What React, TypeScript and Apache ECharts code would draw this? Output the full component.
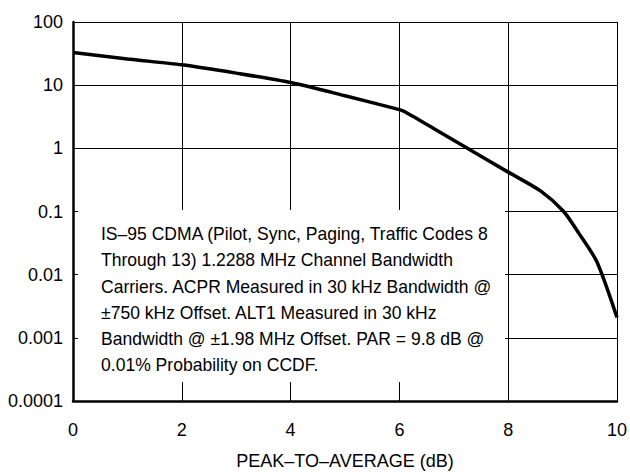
import React, { useEffect, useRef } from "react";
import * as echarts from "echarts";

const xTicks = [0, 2, 4, 6, 8, 10];
const yTickLabels = ["0.0001", "0.001", "0.01", "0.1", "1", "10", "100"];
const curveX = [0, 1, 2, 3, 4, 5, 6, 6.1, 6.7, 7.25, 8, 8.6, 9.02, 9.3, 9.63, 10];
const curveY = [33, 26, 21, 15.5, 11, 6.8, 4.1, 3.8, 1.9, 1.0, 0.42, 0.21, 0.1, 0.045, 0.016, 0.0021];
const xAxisName = "PEAK–TO–AVERAGE (dB)";
const noteLines = [
  "IS–95 CDMA (Pilot, Sync, Paging, Traffic Codes 8",
  "Through 13) 1.2288 MHz Channel Bandwidth",
  "Carriers. ACPR Measured in 30 kHz Bandwidth @",
  "±750 kHz Offset. ALT1 Measured in 30 kHz",
  "Bandwidth @ ±1.98 MHz Offset. PAR = 9.8 dB @",
  "0.01% Probability on CCDF.",
];

const FONT = '"Liberation Sans", Arial, sans-serif';

export default function App() {
  const ref = useRef<HTMLDivElement>(null);
  useEffect(() => {
    if (!ref.current) return;
    const chart = echarts.init(ref.current, undefined, { renderer: "svg" });
    const yFmt = (v: number) => {
      const e = Math.round(Math.log10(v));
      return yTickLabels[e + 4] ?? String(v);
    };
    const xFmt = (v: number) => (xTicks.includes(v) ? String(v) : "");
    const data = curveX.map((x, i) => [x, curveY[i]]);
    chart.setOption({
      animation: false,
      backgroundColor: "#fff",
      grid: { left: 73, right: 10, top: 22, bottom: 69, containLabel: false },
      xAxis: [
        {
          type: "value", min: 0, max: 10, interval: 2, z: 0,
          axisLine: { show: false }, axisTick: { show: false }, axisLabel: { show: false },
          splitLine: { show: true, lineStyle: { color: "#000", width: 1 } },
        },
        {
          type: "value", min: 0, max: 10, interval: 2, z: 10, position: "bottom",
          axisLine: { show: true, onZero: false, lineStyle: { color: "#000", width: 2.5 } },
          axisTick: { show: false },
          splitLine: { show: false },
          axisLabel: { color: "#000", fontFamily: FONT, fontSize: 18, margin: 20, formatter: xFmt },
          name: xAxisName, nameLocation: "middle", nameGap: 51,
          nameTextStyle: { color: "#000", fontFamily: FONT, fontSize: 18 },
        },
      ],
      yAxis: [
        {
          type: "log", logBase: 10, min: 0.0001, max: 100, splitNumber: 6, z: 0,
          axisLine: { show: false }, axisTick: { show: false }, axisLabel: { show: false },
          splitLine: { show: true, lineStyle: { color: "#000", width: 1 } },
        },
        {
          type: "log", logBase: 10, min: 0.0001, max: 100, splitNumber: 6, z: 10, position: "left",
          axisLine: { show: true, onZero: false, lineStyle: { color: "#000", width: 2.5 } },
          axisTick: { show: true, inside: true, length: 5, lineStyle: { color: "#000", width: 1 } },
          splitLine: { show: false },
          axisLabel: { color: "#000", fontFamily: FONT, fontSize: 18, margin: 10, formatter: yFmt },
        },
      ],
      graphic: [
        {
          type: "rect", z: 3,
          shape: { x: 74, y: 210, width: 431, height: 172 },
          style: { fill: "#fff" },
        },
        {
          type: "text", z: 4, x: 101, y: 221, scaleX: 0.975,
          style: {
            text: noteLines.join("\n"),
            font: `18px ${FONT}`,
            lineHeight: 26.2,
            fill: "#000",
            verticalAlign: "top",
            align: "left",
          },
        },
      ],
      series: [
        {
          type: "line", xAxisIndex: 0, yAxisIndex: 0, z: 5,
          data, smooth: 0.25, showSymbol: false, symbol: "none",
          lineStyle: { color: "#000", width: 3.5 },
        },
      ],
    });
    return () => chart.dispose();
  }, []);
  return (
    <div
      ref={ref}
      style={{ position: "fixed", left: 0, top: 0, width: 630, height: 475 }}
    />
  );
}
